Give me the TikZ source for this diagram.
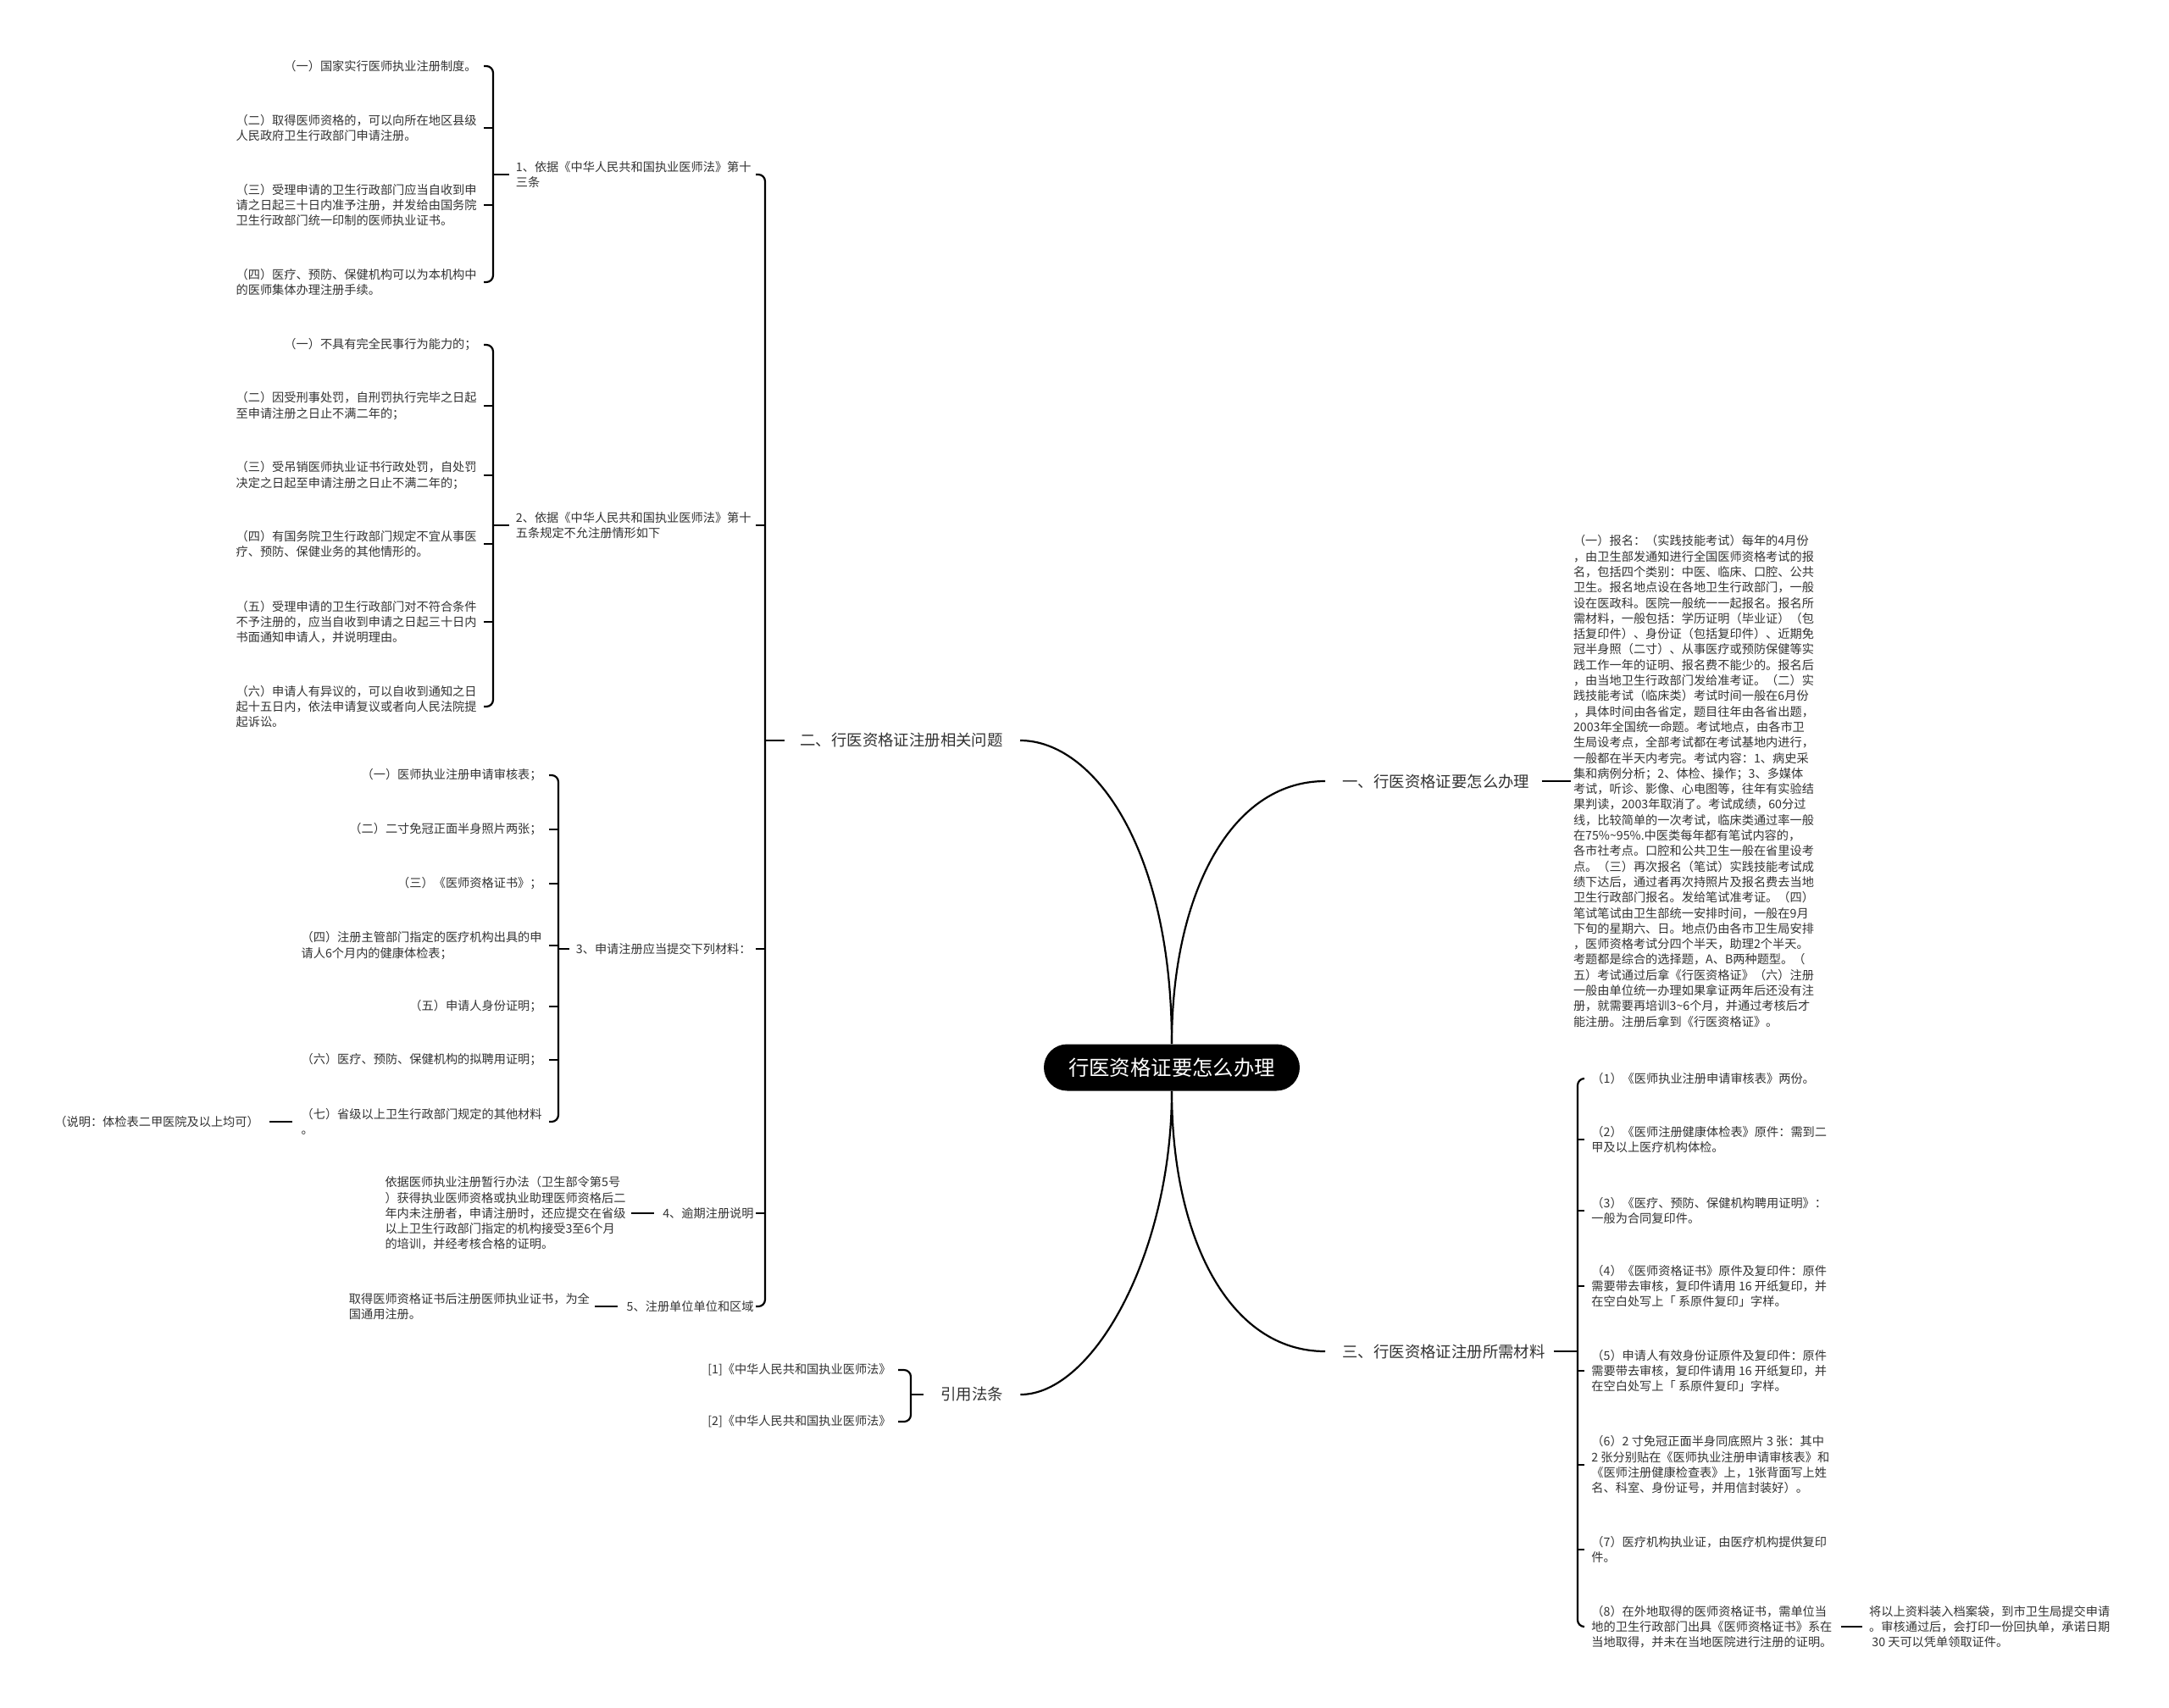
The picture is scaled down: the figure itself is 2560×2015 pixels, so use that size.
\documentclass[tikz,border=0pt]{standalone}
\usepackage{fontspec}
\setmainfont{Noto Sans CJK SC}
\usepackage{tikz}
\usetikzlibrary{positioning,calc}
\definecolor{mytext}{RGB}{51,51,51}

\begin{document}
\begin{tikzpicture}[x=0.5pt,y=-0.5pt,inner sep=0pt,node distance=21.5pt]
\tikzstyle{root}=[rounded corners=13.75pt, fill=black, text=white, minimum width=151pt, minimum height=27.5pt, font=\fontsize{12.2}{14}\selectfont]
\tikzstyle{topic}=[font=\fontsize{9.2}{11}\selectfont, text=mytext]
\tikzstyle{leaf}=[align=left, font=\fontsize{7.1}{9.15}\selectfont, text=mytext]
\tikzstyle{link}=[line width=1.1pt, black]
\tikzstyle{brace}=[line width=1.1pt, black, rounded corners=4pt]
\fill[white] (0,0) rectangle (2560,2015);
\useasboundingbox (0,0) rectangle (2560,2015);
% centre and main topics
\node[root] (root) at (1383,1260) {行医资格证要怎么办理};
\node[topic,anchor=west] (t2) at (944,874) {二、行医资格证注册相关问题};
\node[topic,anchor=west] (t1) at (1584,922) {一、行医资格证要怎么办理};
\node[topic,anchor=west] (t3) at (1584,1595) {三、行医资格证注册所需材料};
\node[topic,anchor=west] (t4) at (1110,1646) {引用法条};
\draw[link] (root.north) .. controls (1383,1000) and (1290,874) .. ([xshift=10pt]t2.east);
\draw[link] (root.north) .. controls (1383,1060) and (1450,922) .. ([xshift=-10pt]t1.west);
\draw[link] (root.south) .. controls (1383,1460) and (1450,1595) .. ([xshift=-10pt]t3.west);
\draw[link] (root.south) .. controls (1383,1480) and (1290,1646) .. ([xshift=10pt]t4.east);
% topic two
\node[leaf,anchor=east] (a1) at (887,206) {1、依据《中华人民共和国执业医师法》第十\\三条};
\node[leaf,anchor=east] (a2) at (887,620) {2、依据《中华人民共和国执业医师法》第十\\五条规定不允注册情形如下};
\node[leaf,anchor=east] (a3) at (887,1120) {3、申请注册应当提交下列材料：};
\node[leaf,anchor=east] (a4) at (890,1432) {4、逾期注册说明};
\node[leaf,anchor=east] (a5) at (890,1542) {5、注册单位单位和区域};
\coordinate (s0) at (903,874);
\draw[brace] ([xshift=2.5pt]a1.east) -| (s0 |- a5.east) -- ([xshift=1pt]a5.east);
\draw[link] ([xshift=2.5pt]a2.east) -- (s0 |- a2.east);
\draw[link] ([xshift=2.5pt]a3.east) -- (s0 |- a3.east);
\draw[link] ([xshift=1pt]a4.east) -- (s0 |- a4.east);
\draw[link] (s0) -- ([xshift=-9pt]t2.west);
% article 13
\node[leaf,anchor=east] (a11) at (563,78) {（一）国家实行医师执业注册制度。};
\node[leaf,anchor=east] (a12) at (563,151) {（二）取得医师资格的，可以向所在地区县级\\人民政府卫生行政部门申请注册。};
\node[leaf,anchor=east] (a13) at (563,242) {（三）受理申请的卫生行政部门应当自收到申\\请之日起三十日内准予注册，并发给由国务院\\卫生行政部门统一印制的医师执业证书。};
\node[leaf,anchor=east] (a14) at (563,333) {（四）医疗、预防、保健机构可以为本机构中\\的医师集体办理注册手续。};
\coordinate (s1) at (582,206);
\draw[brace] ([xshift=4pt]a11.east) -| (s1 |- a14.east) -- ([xshift=4pt]a14.east);
\draw[link] ([xshift=4pt]a12.east) -- (s1 |- a12.east);
\draw[link] ([xshift=4pt]a13.east) -- (s1 |- a13.east);
\draw[link] (s1 |- a1.west) -- ([xshift=-4pt]a1.west);
% article 15
\node[leaf,anchor=east] (a21) at (563,407) {（一）不具有完全民事行为能力的；};
\node[leaf,anchor=east] (a22) at (563,479) {（二）因受刑事处罚，自刑罚执行完毕之日起\\至申请注册之日止不满二年的；};
\node[leaf,anchor=east] (a23) at (563,561) {（三）受吊销医师执业证书行政处罚，自处罚\\决定之日起至申请注册之日止不满二年的；};
\node[leaf,anchor=east] (a24) at (563,642) {（四）有国务院卫生行政部门规定不宜从事医\\疗、预防、保健业务的其他情形的。};
\node[leaf,anchor=east] (a25) at (563,734) {（五）受理申请的卫生行政部门对不符合条件\\不予注册的，应当自收到申请之日起三十日内\\书面通知申请人，并说明理由。};
\node[leaf,anchor=east] (a26) at (563,834) {（六）申请人有异议的，可以自收到通知之日\\起十五日内，依法申请复议或者向人民法院提\\起诉讼。};
\coordinate (s2) at (582,620);
\draw[brace] ([xshift=4pt]a21.east) -| (s2 |- a26.east) -- ([xshift=4pt]a26.east);
\draw[link] ([xshift=4pt]a22.east) -- (s2 |- a22.east);
\draw[link] ([xshift=4pt]a23.east) -- (s2 |- a23.east);
\draw[link] ([xshift=4pt]a24.east) -- (s2 |- a24.east);
\draw[link] ([xshift=4pt]a25.east) -- (s2 |- a25.east);
\draw[link] (s2 |- a2.west) -- ([xshift=-4pt]a2.west);
% materials
\node[leaf,anchor=east] (a31) at (640,915) {（一）医师执业注册申请审核表；};
\node[leaf,anchor=east] (a32) at (640,979) {（二）二寸免冠正面半身照片两张；};
\node[leaf,anchor=east] (a33) at (640,1043) {（三）《医师资格证书》；};
\node[leaf,anchor=east] (a34) at (640,1116) {（四）注册主管部门指定的医疗机构出具的申\\请人6个月内的健康体检表；};
\node[leaf,anchor=east] (a35) at (640,1188) {（五）申请人身份证明；};
\node[leaf,anchor=east] (a36) at (640,1251) {（六）医疗、预防、保健机构的拟聘用证明；};
\node[leaf,anchor=east] (a37) at (640,1324) {（七）省级以上卫生行政部门规定的其他材料\\。};
\node[leaf,left=24.5pt of a37] (n37) {（说明：体检表二甲医院及以上均可）};
\coordinate (s3) at (659,1120);
\draw[brace] ([xshift=4pt]a31.east) -| (s3 |- a37.east) -- ([xshift=4pt]a37.east);
\draw[link] ([xshift=4pt]a32.east) -- (s3 |- a32.east);
\draw[link] ([xshift=4pt]a33.east) -- (s3 |- a33.east);
\draw[link] ([xshift=4pt]a34.east) -- (s3 |- a34.east);
\draw[link] ([xshift=4pt]a35.east) -- (s3 |- a35.east);
\draw[link] ([xshift=4pt]a36.east) -- (s3 |- a36.east);
\draw[link] (s3 |- a3.west) -- ([xshift=-4pt]a3.west);
\draw[link] ([xshift=6pt]n37.east) -- ([xshift=-5pt]a37.west);
% late and scope
\node[leaf,left=of a4] (d4) {依据医师执业注册暂行办法（卫生部令第5号\\）获得执业医师资格或执业助理医师资格后二\\年内未注册者，申请注册时，还应提交在省级\\以上卫生行政部门指定的机构接受3至6个月\\的培训，并经考核合格的证明。};
\node[leaf,left=of a5] (d5) {取得医师资格证书后注册医师执业证书，为全\\国通用注册。};
\draw[link] ([xshift=3pt]d4.east) -- ([xshift=-5pt]a4.west);
\draw[link] ([xshift=3pt]d5.east) -- ([xshift=-5pt]a5.west);
% topic one
\node[leaf,right=25.5pt of t1] (p1) {（一）报名：（实践技能考试）每年的4月份\\，由卫生部发通知进行全国医师资格考试的报\\名，包括四个类别：中医、临床、口腔、公共\\卫生。报名地点设在各地卫生行政部门，一般\\设在医政科。医院一般统一一起报名。报名所\\需材料，一般包括：学历证明（毕业证）（包\\括复印件）、身份证（包括复印件）、近期免\\冠半身照（二寸）、从事医疗或预防保健等实\\践工作一年的证明、报名费不能少的。报名后\\，由当地卫生行政部门发给准考证。（二）实\\践技能考试（临床类）考试时间一般在6月份\\，具体时间由各省定，题目往年由各省出题，\\2003年全国统一命题。考试地点，由各市卫\\生局设考点，全部考试都在考试基地内进行，\\一般都在半天内考完。考试内容：1、病史采\\集和病例分析；2、体检、操作；3、多媒体\\考试，听诊、影像、心电图等，往年有实验结\\果判读，2003年取消了。考试成绩，60分过\\线，比较简单的一次考试，临床类通过率一般\\在75\%\textasciitilde95\%.中医类每年都有笔试内容的，\\各市社考点。口腔和公共卫生一般在省里设考\\点。（三）再次报名（笔试）实践技能考试成\\绩下达后，通过者再次持照片及报名费去当地\\卫生行政部门报名。发给笔试准考证。（四）\\笔试笔试由卫生部统一安排时间，一般在9月\\下旬的星期六、日。地点仍由各市卫生局安排\\，医师资格考试分四个半天，助理2个半天。\\考题都是综合的选择题，A、B两种题型。（\\五）考试通过后拿《行医资格证》（六）注册\\一般由单位统一办理如果拿证两年后还没有注\\册，就需要再培训3\textasciitilde6个月，并通过考核后才\\能注册。注册后拿到《行医资格证》。};
\draw[link] ([xshift=7pt]t1.east) -- ([xshift=-1.5pt]p1.west);
% topic three
\node[leaf,anchor=west] (b1) at (1878,1273) {（1）《医师执业注册申请审核表》两份。};
\node[leaf,anchor=west] (b2) at (1878,1345) {（2）《医师注册健康体检表》原件：需到二\\甲及以上医疗机构体检。};
\node[leaf,anchor=west] (b3) at (1878,1429) {（3）《医疗、预防、保健机构聘用证明》：\\一般为合同复印件。};
\node[leaf,anchor=west] (b4) at (1878,1518) {（4）《医师资格证书》原件及复印件：原件\\需要带去审核，复印件请用 16 开纸复印，并\\在空白处写上「 系原件复印」字样。};
\node[leaf,anchor=west] (b5) at (1878,1618) {（5）申请人有效身份证原件及复印件：原件\\需要带去审核，复印件请用 16 开纸复印，并\\在空白处写上「 系原件复印」字样。};
\node[leaf,anchor=west] (b6) at (1878,1729) {（6）2 寸免冠正面半身同底照片 3 张：其中\\2 张分别贴在《医师执业注册申请审核表》和\\《医师注册健康检查表》上，1张背面写上姓\\名、科室、身份证号，并用信封装好）。};
\node[leaf,anchor=west] (b7) at (1878,1829) {（7）医疗机构执业证，由医疗机构提供复印\\件。};
\node[leaf,anchor=west] (b8) at (1878,1920) {（8）在外地取得的医师资格证书，需单位当\\地的卫生行政部门出具《医师资格证书》系在\\当地取得，并未在当地医院进行注册的证明。};
\node[leaf,right=of b8] (d8) {将以上资料装入档案袋，到市卫生局提交申请\\。审核通过后，会打印一份回执单，承诺日期\\\ 30 天可以凭单领取证件。};
\coordinate (s4) at (1862,1595);
\draw[brace] ([xshift=-4pt]b1.west) -| (s4 |- b8.west) -- ([xshift=-4pt]b8.west);
\draw[link] ([xshift=-4pt]b2.west) -- (s4 |- b2.west);
\draw[link] ([xshift=-4pt]b3.west) -- (s4 |- b3.west);
\draw[link] ([xshift=-4pt]b4.west) -- (s4 |- b4.west);
\draw[link] ([xshift=-4pt]b5.west) -- (s4 |- b5.west);
\draw[link] ([xshift=-4pt]b6.west) -- (s4 |- b6.west);
\draw[link] ([xshift=-4pt]b7.west) -- (s4 |- b7.west);
\draw[link] (s4 |- t3.east) -- ([xshift=5pt]t3.east);
\draw[link] ([xshift=5pt]b8.east) -- ([xshift=-4pt]d8.west);
% cited laws
\node[leaf,anchor=east] (r1) at (1052,1617) {[1]《中华人民共和国执业医师法》};
\node[leaf,anchor=east] (r2) at (1052,1678) {[2]《中华人民共和国执业医师法》};
\coordinate (s5) at (1075,1646);
\draw[brace] ([xshift=4pt]r1.east) -| (s5 |- r2.east) -- ([xshift=4pt]r2.east);
\draw[link] (s5 |- t4.west) -- ([xshift=-10pt]t4.west);
\end{tikzpicture}
\end{document}
